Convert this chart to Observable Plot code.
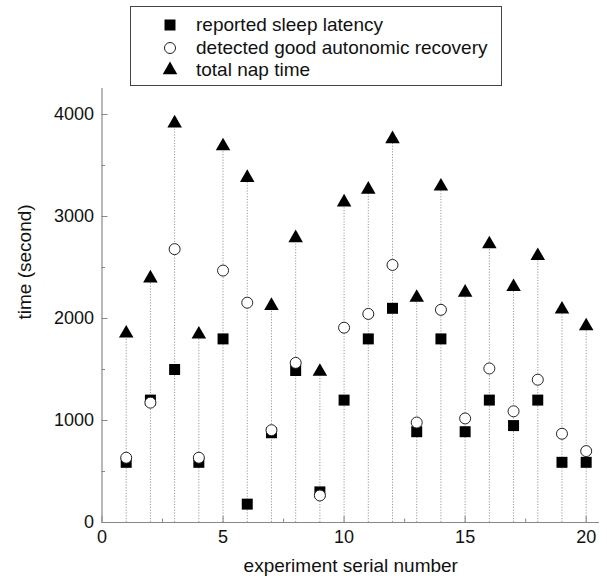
<!DOCTYPE html>
<html>
<head>
<meta charset="utf-8">
<script src="https://cdn.jsdelivr.net/npm/d3@7"></script>
<script src="https://cdn.jsdelivr.net/npm/@observablehq/plot@0.6"></script>
<style>
  body { margin: 0; background: #fff; font-family: "Liberation Sans", Arial, sans-serif; color: #111; }
  #chart { position: relative; width: 607px; height: 585px; }
  #legend {
    position: absolute; left: 130px; top: 6px; width: 370px; height: 78px;
    border: 1px solid #444; background: #fff; box-sizing: content-box;
  }
  #legend .row { position: absolute; left: 0; height: 22px; display: flex; align-items: center; font-size: 19px; }
  #legend svg { position: absolute; left: 28px; }
  #legend span { position: absolute; left: 65px; white-space: nowrap; }
</style>
</head>
<body>
<div id="chart"><div id="legend"></div></div>
<script>
// Nap experiments: sleep latency, autonomic recovery, total nap time (seconds)
const experiment = [1, 2, 3, 4, 5, 6, 7, 8, 9, 10, 11, 12, 13, 14, 15, 16, 17, 18, 19, 20];
const latency  = [590, 1200, 1500, 590, 1800, 180, 880, 1490, 300, 1200, 1800, 2100, 890, 1800, 890, 1200, 950, 1200, 590, 590];
const recovery = [635, 1175, 2680, 635, 2470, 2155, 905, 1565, 265, 1910, 2045, 2525, 980, 2085, 1020, 1510, 1090, 1400, 870, 700];
const napTime  = [1855, 2395, 3915, 1845, 3690, 3380, 2125, 2790, 1480, 3140, 3265, 3760, 2205, 3295, 2255, 2730, 2310, 2615, 2090, 1925];

const xTicks = [0, 5, 10, 15, 20];
const xMinor = [2.5, 7.5, 12.5, 17.5];
const yTicks = [0, 1000, 2000, 3000, 4000];
const yMinor = [500, 1500, 2500, 3500];

const seriesNames = ["reported sleep latency", "detected good autonomic recovery", "total nap time"];

const rows = experiment.map((n, i) => ({n, latency: latency[i], recovery: recovery[i], nap: napTime[i]}));

const axisColor = "#888";
const font = "Liberation Sans, Arial, sans-serif";

const chart = Plot.plot({
  width: 607,
  height: 585,
  marginLeft: 101.5,
  marginRight: 8,
  marginTop: 88,
  marginBottom: 63,
  style: {fontFamily: font, fontSize: "18px", color: "#111", background: "transparent", overflow: "visible"},
  x: {domain: [0, 20.55], label: null},
  y: {domain: [0, 4255], label: null},
  marks: [
    // dotted drop lines from each nap total down to the axis
    Plot.ruleX(rows, {x: "n", y1: 0, y2: "nap", stroke: "#999", strokeWidth: 1, strokeDasharray: "1.2,1.6"}),
    // axis lines
    Plot.ruleY([0], {stroke: axisColor, strokeWidth: 1.2}),
    Plot.ruleX([0], {stroke: axisColor, strokeWidth: 1.2}),
    // inward tick marks
    Plot.axisX(xTicks, {tickSize: -6, tickFormat: () => "", stroke: axisColor, label: null}),
    Plot.axisX(xMinor, {tickSize: -3.5, tickFormat: () => "", stroke: axisColor, label: null}),
    Plot.axisY(yTicks, {tickSize: -6, tickFormat: () => "", stroke: axisColor, label: null}),
    Plot.axisY(yMinor, {tickSize: -3.5, tickFormat: () => "", stroke: axisColor, label: null}),
    // tick labels
    Plot.axisX(xTicks, {tickSize: 0, tickPadding: 8, fontSize: 18, fill: "#111", label: null}),
    Plot.axisY(yTicks, {tickSize: 0, tickPadding: 8, fontSize: 18, fill: "#111", label: null, tickFormat: d => String(d)}),
    // axis titles
    Plot.text(["experiment serial number"], {frameAnchor: "bottom", dy: 49, fontSize: 19, fill: "#111"}),
    Plot.text(["time (second)"], {frameAnchor: "left", rotate: -90, dx: -77, dy: 14, fontSize: 19, fill: "#111"}),
    // series markers
    Plot.dot(rows, {x: "n", y: "nap", symbol: "triangle", r: 5.4, fill: "#000", stroke: "none"}),
    Plot.dot(rows, {x: "n", y: "latency", symbol: "square", r: 6.2, fill: "#000", stroke: "none"}),
    Plot.dot(rows, {x: "n", y: "recovery", symbol: "circle", r: 5.5, fill: "#fff", stroke: "#222", strokeWidth: 1})
  ]
});

document.getElementById("chart").prepend(chart);
chart.style.position = "absolute";
chart.style.left = "0";
chart.style.top = "0";

// legend with the same symbols
const legend = d3.select("#legend");
const symbols = [
  {type: d3.symbolSquare, r: 6.2, fill: "#000", stroke: "none"},
  {type: d3.symbolCircle, r: 5.5, fill: "#fff", stroke: "#222"},
  {type: d3.symbolTriangle, r: 5.4, fill: "#000", stroke: "none"}
];
const rowTop = [7, 30, 52];
seriesNames.forEach((name, i) => {
  const row = legend.append("div").attr("class", "row").style("top", rowTop[i] + "px").style("width", "370px");
  const s = symbols[i];
  row.append("svg").attr("width", 22).attr("height", 22)
    .append("path")
    .attr("transform", "translate(11,11)")
    .attr("d", d3.symbol(s.type, Math.PI * s.r * s.r)())
    .attr("fill", s.fill).attr("stroke", s.stroke);
  row.append("span").text(name);
});
</script>
</body>
</html>
